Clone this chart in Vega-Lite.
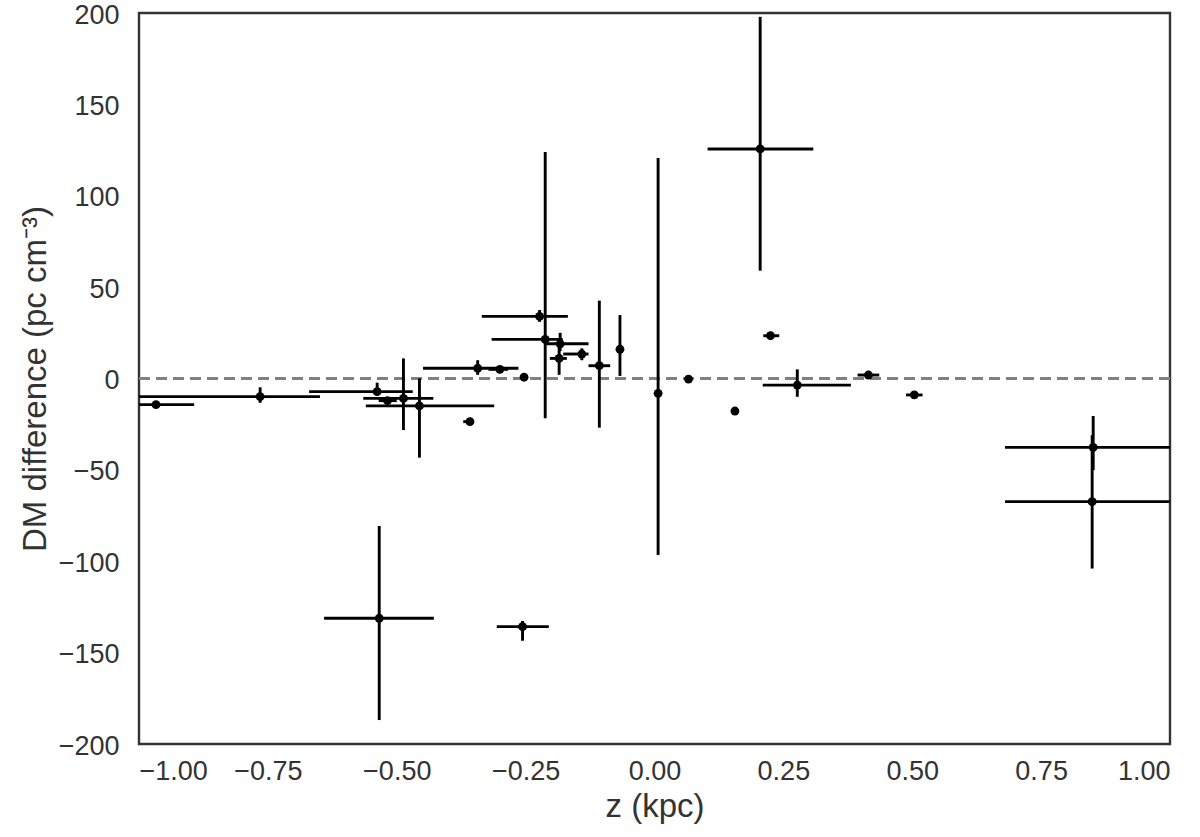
{
  "$schema": "https://vega.github.io/schema/vega-lite/v6.json",
  "width": 1031,
  "height": 731,
  "autosize": {"type": "none"},
  "padding": {"left": 139, "top": 13, "right": 30, "bottom": 93},
  "background": "white",
  "config": {
    "view": {"stroke": "#333333", "strokeWidth": 2.4},
    "axis": {
      "grid": false, "ticks": false, "domain": false,
      "labelFont": "Liberation Sans", "titleFont": "Liberation Sans",
      "labelFontSize": 27, "titleFontSize": 33,
      "labelColor": "#333333", "titleColor": "#333333", "titleFontWeight": "normal"
    }
  },
  "data": {"values": [
    {"z": -0.967, "dm": -14.3, "zlo": -1.05, "zhi": -0.893, "dlo": -15.5, "dhi": -13.0},
    {"z": -0.765, "dm": -9.9, "zlo": -1.05, "zhi": -0.649, "dlo": -13.3, "dhi": -4.8},
    {"z": -0.538, "dm": -7.2, "zlo": -0.670, "zhi": -0.469, "dlo": -9.5, "dhi": -2.3},
    {"z": -0.518, "dm": -12.1, "zlo": -0.535, "zhi": -0.500, "dlo": -13.0, "dhi": -11.2},
    {"z": -0.487, "dm": -10.9, "zlo": -0.565, "zhi": -0.429, "dlo": -28.2, "dhi": 11.0},
    {"z": -0.456, "dm": -15.0, "zlo": -0.560, "zhi": -0.311, "dlo": -43.3, "dhi": 0.1},
    {"z": -0.534, "dm": -131.2, "zlo": -0.641, "zhi": -0.428, "dlo": -186.9, "dhi": -80.7},
    {"z": -0.358, "dm": -23.6, "zlo": -0.371, "zhi": -0.350, "dlo": -24.3, "dhi": -22.9},
    {"z": -0.343, "dm": 5.6, "zlo": -0.449, "zhi": -0.264, "dlo": 2.0, "dhi": 10.0},
    {"z": -0.300, "dm": 5.0, "zlo": -0.322, "zhi": -0.284, "dlo": 4.3, "dhi": 5.7},
    {"z": -0.253, "dm": 0.7, "zlo": -0.260, "zhi": -0.246, "dlo": 0.2, "dhi": 1.2},
    {"z": -0.256, "dm": -135.8, "zlo": -0.306, "zhi": -0.205, "dlo": -143.5, "dhi": -132.7},
    {"z": -0.223, "dm": 34.0, "zlo": -0.335, "zhi": -0.168, "dlo": 31.0, "dhi": 37.5},
    {"z": -0.212, "dm": 21.4, "zlo": -0.316, "zhi": -0.178, "dlo": -21.8, "dhi": 124.0},
    {"z": -0.183, "dm": 19.0, "zlo": -0.210, "zhi": -0.128, "dlo": 15.0, "dhi": 25.0},
    {"z": -0.185, "dm": 11.0, "zlo": -0.203, "zhi": -0.170, "dlo": 2.0, "dhi": 18.0},
    {"z": -0.141, "dm": 13.4, "zlo": -0.177, "zhi": -0.128, "dlo": 10.0, "dhi": 16.5},
    {"z": -0.107, "dm": 7.0, "zlo": -0.128, "zhi": -0.086, "dlo": -26.9, "dhi": 42.6},
    {"z": -0.067, "dm": 16.0, "zlo": -0.069, "zhi": -0.065, "dlo": 1.4, "dhi": 34.7},
    {"z": 0.007, "dm": -8.1, "zlo": 0.005, "zhi": 0.009, "dlo": -96.6, "dhi": 120.7},
    {"z": 0.066, "dm": -0.3, "zlo": 0.064, "zhi": 0.068, "dlo": -0.8, "dhi": 0.2},
    {"z": 0.156, "dm": -17.8, "zlo": 0.154, "zhi": 0.158, "dlo": -18.3, "dhi": -17.3},
    {"z": 0.205, "dm": 125.6, "zlo": 0.103, "zhi": 0.308, "dlo": 59.0, "dhi": 197.9},
    {"z": 0.225, "dm": 23.4, "zlo": 0.211, "zhi": 0.242, "dlo": 22.8, "dhi": 24.0},
    {"z": 0.277, "dm": -3.6, "zlo": 0.210, "zhi": 0.381, "dlo": -10.0, "dhi": 5.0},
    {"z": 0.415, "dm": 1.9, "zlo": 0.394, "zhi": 0.436, "dlo": 1.2, "dhi": 2.6},
    {"z": 0.504, "dm": -9.0, "zlo": 0.488, "zhi": 0.520, "dlo": -9.6, "dhi": -8.4},
    {"z": 0.851, "dm": -37.7, "zlo": 0.680, "zhi": 1.05, "dlo": -50.1, "dhi": -20.5},
    {"z": 0.849, "dm": -67.4, "zlo": 0.680, "zhi": 1.05, "dlo": -104.0, "dhi": -31.0}
  ]},
  "layer": [
    {
      "data": {"values": [{"y0": 0}]},
      "mark": {"type": "rule", "color": "#808080", "strokeWidth": 3, "strokeDash": [11, 6]},
      "encoding": {"y": {"field": "y0", "type": "quantitative", "scale": {"domain": [-200, 200], "nice": false}}}
    },
    {
      "mark": {"type": "rule", "color": "black", "strokeWidth": 2.9, "clip": true},
      "encoding": {
        "x": {"field": "zlo", "type": "quantitative"},
        "x2": {"field": "zhi"},
        "y": {"field": "dm", "type": "quantitative"}
      }
    },
    {
      "mark": {"type": "rule", "color": "black", "strokeWidth": 2.9, "clip": true},
      "encoding": {
        "x": {"field": "z", "type": "quantitative"},
        "y": {"field": "dlo", "type": "quantitative"},
        "y2": {"field": "dhi"}
      }
    },
    {
      "mark": {"type": "point", "filled": true, "color": "black", "opacity": 1, "size": 78},
      "encoding": {
        "x": {"field": "z", "type": "quantitative",
              "scale": {"domain": [-1, 1], "nice": false, "zero": false},
              "axis": {"title": "z (kpc)", "values": [-1, -0.75, -0.5, -0.25, 0, 0.25, 0.5, 0.75, 1], "format": ".2f", "labelPadding": 14, "titlePadding": 6}},
        "y": {"field": "dm", "type": "quantitative",
              "scale": {"domain": [-200, 200], "nice": false},
              "axis": {"title": "DM difference (pc cm⁻³)", "values": [-200, -150, -100, -50, 0, 50, 100, 150, 200], "labelPadding": 20, "labelOffset": 2, "titlePadding": 6}}
      }
    }
  ],
  "resolve": {"scale": {"x": "shared", "y": "shared"}}
}
